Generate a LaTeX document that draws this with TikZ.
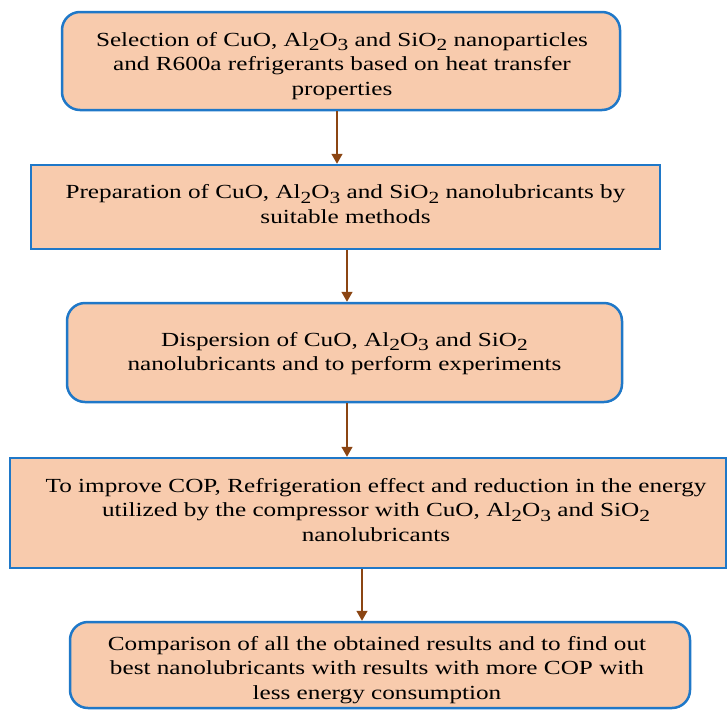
\documentclass[tikz,border=0pt]{standalone}
\usepackage{fontspec}
\newfontfamily\boxfont[FakeStretch=1.26]{Liberation Serif}
\usetikzlibrary{arrows.meta}
\definecolor{peach}{HTML}{F8CBAD}
\definecolor{bordblue}{HTML}{1F78C8}
\definecolor{arrbrown}{HTML}{8B4513}
\newcommand{\lsub}[1]{\raisebox{-0.22em}{\fontsize{17}{17}\selectfont #1}}
\tikzset{
  boxbase/.style={draw=bordblue, fill=peach, line width=2.5pt, inner sep=0pt},
  roundbox/.style={boxbase, rounded corners=18pt},
  sharpbox/.style={boxbase},
  boxtext/.style={align=center, inner sep=0pt, font=\boxfont\fontsize{20}{24.5}\selectfont},
  arr/.style={draw=arrbrown, line width=1.5pt, -{Triangle[width=11pt,length=10pt]}}
}
\begin{document}
\begin{tikzpicture}[x=1pt,y=-1pt]
\useasboundingbox (0,0) rectangle (728,710);
\node[roundbox, minimum width=558pt, minimum height=98pt] (b1) at (341,61) {};
\node[boxtext] (t1) at ([yshift=-5pt,xshift=1pt]b1.center)
  {Selection of CuO, Al\lsub{2}O\lsub{3} and SiO\lsub{2} nanoparticles\\
   and R600a refrigerants based on heat transfer\\ properties};
\node[sharpbox, minimum width=629pt, minimum height=84pt] (b2) at (345.5,207) {};
\node[boxtext] (t2) at ([yshift=3pt]b2.center)
  {Preparation of CuO, Al\lsub{2}O\lsub{3} and SiO\lsub{2} nanolubricants by\\
   suitable methods};
\node[roundbox, minimum width=555pt, minimum height=99pt] (b3) at (344.5,352.5) {};
\node[boxtext] (t3) at ([yshift=-1pt]b3.center)
  {Dispersion of CuO, Al\lsub{2}O\lsub{3} and SiO\lsub{2}\\
   nanolubricants and to perform experiments};
\node[sharpbox, minimum width=716pt, minimum height=110pt] (b4) at (368,513) {};
\node[boxtext] (t4) at ([xshift=8pt,yshift=3pt]b4.center)
  {To improve COP, Refrigeration effect and reduction in the energy\\
   utilized by the compressor with CuO, Al\lsub{2}O\lsub{3} and SiO\lsub{2}\\
   nanolubricants};
\node[roundbox, minimum width=620pt, minimum height=86pt] (b5) at (380,665) {};
\node[boxtext] (t5) at ([yshift=-5pt,xshift=-3pt]b5.center)
  {Comparison of all the obtained results and to find out\\
   best nanolubricants with results with more COP with\\
   less energy consumption};
\draw[arr] ([xshift=-4pt]b1.south) -- ([xshift=-4pt]b1.south |- b2.north);
\draw[arr] ([xshift=1.5pt]b2.south) -- ([xshift=1.5pt]b2.south |- b3.north);
\draw[arr] ([xshift=2.5pt]b3.south) -- ([xshift=2.5pt]b3.south |- b4.north);
\draw[arr] ([xshift=-6pt]b4.south) -- ([xshift=-6pt]b4.south |- b5.north);
\end{tikzpicture}
\end{document}
